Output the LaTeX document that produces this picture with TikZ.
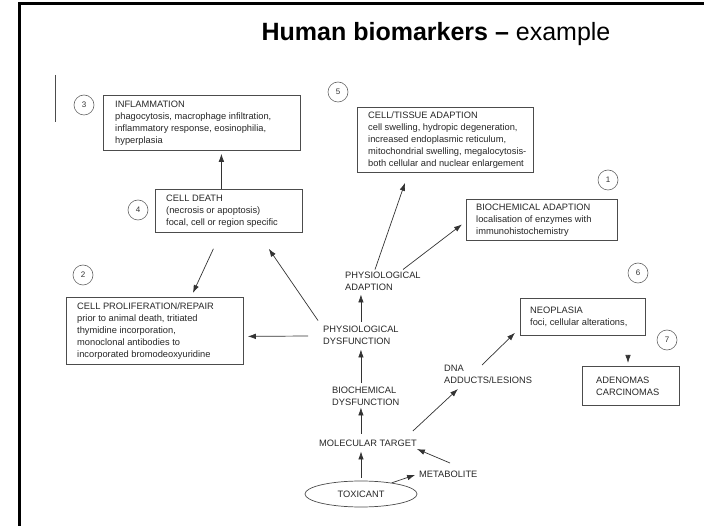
\documentclass[tikz,border=0pt]{standalone}
\usepackage{fontspec}
\setmainfont{Liberation Sans}
\usetikzlibrary{arrows.meta,shapes.geometric,calc}
\begin{document}
\begin{tikzpicture}[x=1pt,y=-1pt,
  txt/.style={font=\fontsize{9.3}{12}\selectfont, text=black!85},
  bx/.style={draw=black!70, line width=0.8pt, anchor=north west, inner sep=0pt},
  lbl/.style={txt, anchor=west, align=left, inner sep=1pt},
  num/.style={circle, draw=black!60, line width=0.6pt, minimum size=20pt, inner sep=0pt, font=\fontsize{8}{9}\selectfont, text=black!80},
  arr/.style={-{Latex[length=8pt,width=5.5pt]}, draw=black!80, line width=0.7pt},
]
\useasboundingbox (0,0) rectangle (704,526);
\draw[line width=3pt, line join=miter] (19,526) -- (19,4) -- (704,4);
\draw[line width=0.8pt, black!70] (55,75) -- (55,122);

\node[anchor=base, inner sep=0pt, font=\fontsize{25}{30}\selectfont] (title) at (436,41) {\textbf{Human biomarkers –} example};

% boxes
\node[bx, minimum width=197, minimum height=55] (infl) at (103,95) {};
\node[lbl] (inflt) at ($(infl.west)+(11,0)$) {INFLAMMATION\\phagocytosis, macrophage infiltration,\\inflammatory response, eosinophilia,\\hyperplasia};

\node[bx, minimum width=147, minimum height=43] (death) at (155,189) {};
\node[lbl] (deatht) at ($(death.west)+(10,0)$) {CELL DEATH\\(necrosis or apoptosis)\\focal, cell or region specific};

\node[bx, minimum width=176, minimum height=65] (tissue) at (357,107) {};
\node[lbl] (tissuet) at ($(tissue.west)+(10,0)$) {CELL/TISSUE ADAPTION\\cell swelling, hydropic degeneration,\\increased endoplasmic reticulum,\\mitochondrial swelling, megalocytosis-\\both cellular and nuclear enlargement};

\node[bx, minimum width=151, minimum height=41] (bioad) at (466,199) {};
\node[lbl] (bioadt) at ($(bioad.west)+(9,0)$) {BIOCHEMICAL ADAPTION\\localisation of enzymes with\\immunohistochemistry};

\node[bx, minimum width=177, minimum height=67] (prolif) at (66,297) {};
\node[lbl] (prolift) at ($(prolif.west)+(10,0)$) {CELL PROLIFERATION/REPAIR\\prior to animal death, tritiated\\thymidine incorporation,\\monoclonal antibodies to\\incorporated bromodeoxyuridine};

\node[bx, minimum width=125, minimum height=37] (neo) at (520,298) {};
\node[lbl] (neot) at ($(neo.west)+(9,0)$) {NEOPLASIA\\foci, cellular alterations,};

\node[bx, minimum width=97, minimum height=39] (aden) at (582,366) {};
\node[lbl] (adent) at ($(aden.west)+(13,0)$) {ADENOMAS\\CARCINOMAS};

% numbers
\node[num] (n3) at (84,105) {3};
\node[num] (n4) at (138,210) {4};
\node[num] (n5) at (338,92) {5};
\node[num] (n1) at (608,180) {1};
\node[num] (n2) at (83,275) {2};
\node[num] (n6) at (638,273) {6};
\node[num] (n7) at (667,340) {7};

% plain labels
\node[lbl] (physad) at (344,281) {PHYSIOLOGICAL\\ADAPTION};
\node[lbl] (physdys) at (322,335) {PHYSIOLOGICAL\\DYSFUNCTION};
\node[lbl] (biodys) at (331,396) {BIOCHEMICAL\\DYSFUNCTION};
\node[lbl] (mol) at (318,443) {MOLECULAR TARGET};
\node[lbl] (metab) at (418,474) {METABOLITE};
\node[lbl] (dna) at (443,374) {DNA\\ADDUCTS/LESIONS};
\node[txt, ellipse, draw=black!70, line width=0.7pt, minimum width=112, minimum height=26, inner sep=0pt] (tox) at (361,494) {TOXICANT};

% arrows
\draw[arr, shorten >=3pt] ($(death.north)+(-7.5,0)$) -- ($(infl.south)+(19.5,0)$);
\draw[arr] ($(death.south)+(-15.5,16)$) -- ($(prolif.north)+(38,-4)$);
\draw[arr] ($(physdys.north west)+(-4,-4)$) -- ($(death.south east)+(-34,16)$);
\draw[arr] ($(physdys.west)+(-14,1)$) -- ($(prolif.east)+(4,5.5)$);
\draw[arr, shorten >=3pt, shorten <=3pt] (physdys.north) -- (physdys.north |- physad.south);
\draw[arr, shorten >=4pt, shorten <=3pt] (physdys.south |- biodys.north) -- (physdys.south);
\draw[arr, shorten >=1pt, shorten <=5pt] (physdys.south |- mol.north) -- (physdys.south |- biodys.south);
\draw[arr, shorten >=4pt, shorten <=3pt] (tox.north) -- (tox.north |- mol.south);
\draw[arr] ($(physad.north west)+(31,-1)$) -- ($(tissue.south west)+(48,10)$);
\draw[arr] ($(physad.north west)+(59,-1)$) -- ($(bioad.west)+(-4,4.5)$);
\draw[arr] ($(mol.east)+(-5,-12)$) -- ($(dna.south west)+(15,4.5)$);
\draw[arr] ($(dna.west)+(39,-9)$) -- ($(neo.south west)+(-5,-3)$);
\draw[arr] ($(metab.west)+(32,-11)$) -- ($(mol.east)+(-1,6)$);
\draw[arr, shorten >=3pt] (tox.20) -- (metab.west);
\coordinate (ah) at (628,355);
\draw[arr, shorten >=3pt] (ah) -- (ah |- aden.north);
\end{tikzpicture}
\end{document}
